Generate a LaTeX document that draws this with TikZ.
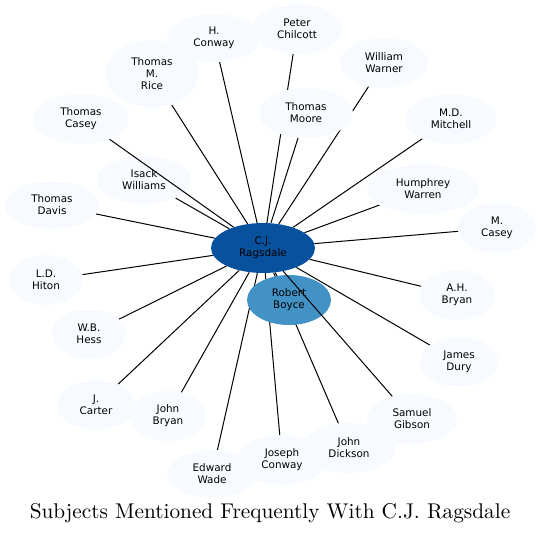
\documentclass[tikz,border=0pt]{standalone}
\usepackage{fontspec}
\newfontfamily\nodefont{DejaVu Sans}
\newfontfamily\titlefont{lmroman10-regular.otf}
\usetikzlibrary{shapes.geometric}
\pgfdeclarelayer{background}
\pgfsetlayers{background,main}
\definecolor{pale}{HTML}{F7FBFF}
\definecolor{hub}{HTML}{08519C}
\definecolor{mid}{HTML}{4292C6}
\tikzset{
  person/.style={ellipse, fill=pale, inner sep=0pt, align=center,
    font=\nodefont\fontsize{10.4}{12}\selectfont},
  link/.style={draw=black, line width=1pt},
}
\newcommand{\pnode}[6]{\node[person, minimum width=#4pt, minimum height=#5pt] (#1) at (#2,#3) {#6};}
\begin{document}
\begin{tikzpicture}[x=1pt,y=-1pt]
\useasboundingbox (0,0) rectangle (541,535);
\pnode{hc}{214}{38}{94}{48}{H.\\Conway}
\pnode{pc}{297}{29}{90}{50}{Peter\\Chilcott}
\pnode{tmr}{152}{74}{94}{68}{Thomas\\M.\\Rice}
\pnode{tc}{81}{119}{96}{50}{Thomas\\Casey}
\pnode{iw}{144}{180}{94}{48}{Isack\\Williams}
\pnode{td}{52}{205}{94}{48}{Thomas\\Davis}
\pnode{ww}{384}{63}{88}{50}{William\\Warner}
\pnode{tmo}{306}{113}{94}{50}{Thomas\\Moore}
\pnode{mdm}{451}{119}{92}{50}{M.D.\\Mitchell}
\pnode{hw}{423}{189}{112}{50}{Humphrey\\Warren}
\pnode{mc}{497}{228}{78}{50}{M.\\Casey}
\pnode{ldh}{46}{280}{74}{50}{L.D.\\Hiton}
\pnode{wbh}{89}{334}{74}{50}{W.B.\\Hess}
\pnode{jc}{96}{405}{78}{50}{J.\\Carter}
\pnode{jb}{168}{416}{76}{50}{John\\Bryan}
\pnode{ew}{212}{474}{90}{48}{Edward\\Wade}
\pnode{jco}{282}{460}{90}{50}{Joseph\\Conway}
\pnode{jdi}{349}{448}{94}{50}{John\\Dickson}
\pnode{sg}{412}{419}{90}{50}{Samuel\\Gibson}
\pnode{jd}{459}{362}{78}{50}{James\\Dury}
\pnode{ahb}{457}{295}{76}{50}{A.H.\\Bryan}
\node[person, fill=hub, minimum width=104pt, minimum height=50pt] (cj) at (263,248) {C.J.\\Ragsdale};
\node[person, fill=mid, minimum width=84pt, minimum height=50pt] (rb) at (289,300) {Robert\\Boyce};
\begin{pgfonlayer}{background}
\foreach \n in {hc,pc,tmr,iw,td,ww,tmo,mdm,hw,mc,ldh,wbh,jc,jb,ew,jco,jdi,jd,ahb,rb}
  \draw[link] (cj) -- (\n);
\end{pgfonlayer}
\draw[link] (cj) -- (tc);
\draw[link] (cj) -- (sg);
\node[font=\titlefont\fontsize{21.3}{24}\selectfont] (title) at (270,513) {Subjects Mentioned Frequently With C.J. Ragsdale};
\end{tikzpicture}
\end{document}
